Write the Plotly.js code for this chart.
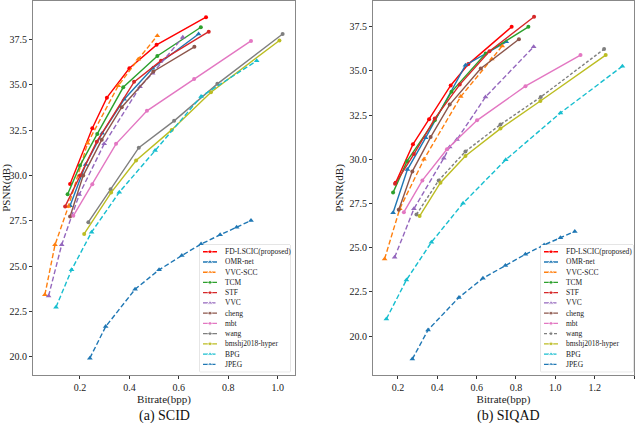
<!DOCTYPE html>
<html>
<head>
<meta charset="utf-8">
<script src="https://cdn.plot.ly/plotly-3.0.1.min.js"></script>
<style>
  body { margin: 0; background: #fff; }
  #chart { width: 640px; height: 423px; }
</style>
</head>
<body>
<div id="chart"></div>
<script>
// method names, same order for both datasets
var methods = ['FD-LSCIC(proposed)', 'OMR-net', 'VVC-SCC', 'TCM', 'STF', 'VVC',
               'cheng', 'mbt', 'wang', 'bmshj2018-hyper', 'BPG', 'JPEG'];

// SCID: bitrate (bpp) per method
var scidBpp = [
  [0.16, 0.25, 0.309, 0.40, 0.51, 0.71],
  [0.16, 0.223, 0.29, 0.379, 0.494, 0.68],
  [0.058, 0.099, 0.153, 0.231, 0.355, 0.436, 0.513],
  [0.15, 0.20, 0.27, 0.375, 0.513, 0.689],
  [0.14, 0.20, 0.268, 0.419, 0.528, 0.721],
  [0.073, 0.126, 0.197, 0.298, 0.443, 0.494, 0.616],
  [0.16, 0.213, 0.288, 0.369, 0.497, 0.663],
  [0.173, 0.25, 0.346, 0.471, 0.662, 0.892],
  [0.234, 0.324, 0.438, 0.581, 0.756, 1.02],
  [0.217, 0.326, 0.427, 0.571, 0.73, 1.007],
  [0.103, 0.166, 0.247, 0.359, 0.504, 0.69, 0.915],
  [0.24, 0.304, 0.423, 0.52, 0.612, 0.69, 0.767, 0.834, 0.892]
];
// SCID: PSNR (dB) per method
var scidPsnr = [
  [29.54, 32.61, 34.30, 35.92, 37.21, 38.74],
  [28.33, 30.61, 32.34, 34.21, 35.92, 37.81],
  [23.42, 26.18, 28.29, 31.79, 34.96, 36.42, 37.72],
  [28.97, 30.55, 32.3, 34.87, 36.6, 38.18],
  [28.3, 30.0, 31.87, 35.17, 36.34, 37.94],
  [23.36, 26.18, 28.95, 31.75, 34.9, 35.65, 37.63],
  [27.74, 30.0, 31.97, 33.77, 35.74, 37.1],
  [27.78, 29.52, 31.75, 33.57, 35.33, 37.43],
  [27.43, 29.25, 31.54, 33.02, 35.06, 37.81],
  [26.78, 29.06, 30.83, 32.52, 34.6, 37.45],
  [22.74, 24.8, 26.88, 29.08, 31.38, 34.36, 36.33],
  [19.93, 21.67, 23.73, 24.8, 25.59, 26.22, 26.73, 27.15, 27.52]
];

// SIQAD: bitrate (bpp) per method
var siqadBpp = [
  [0.188, 0.276, 0.358, 0.468, 0.558, 0.778],
  [0.175, 0.248, 0.341, 0.543, 0.751],
  [0.132, 0.209, 0.332, 0.519, 0.677, 0.73],
  [0.175, 0.246, 0.387, 0.472, 0.646, 0.863],
  [0.185, 0.281, 0.387, 0.514, 0.665, 0.892],
  [0.183, 0.281, 0.433, 0.463, 0.50, 0.645, 0.89],
  [0.204, 0.273, 0.366, 0.463, 0.621, 0.815],
  [0.23, 0.324, 0.449, 0.602, 0.848, 1.128],
  [0.294, 0.407, 0.543, 0.721, 0.926, 1.248],
  [0.31, 0.416, 0.543, 0.721, 0.924, 1.256],
  [0.141, 0.243, 0.37, 0.531, 0.748, 1.026, 1.341],
  [0.273, 0.353, 0.51, 0.632, 0.746, 0.848, 0.943, 1.026, 1.099]
];
// SIQAD: PSNR (dB) per method
var siqadPsnr = [
  [28.68, 30.85, 32.27, 34.18, 35.39, 37.5],
  [26.98, 29.42, 31.23, 35.33, 36.65],
  [24.37, 27.2, 30.0, 33.55, 35.68, 36.42],
  [28.12, 29.9, 32.21, 33.82, 35.99, 37.5],
  [28.62, 30.3, 32.31, 34.23, 36.12, 38.07],
  [24.46, 27.2, 30.07, 30.7, 31.13, 33.53, 36.37],
  [27.15, 29.32, 31.26, 33.1, 35.14, 36.8],
  [27.01, 28.81, 30.57, 32.21, 34.14, 35.9],
  [26.88, 28.81, 30.45, 31.97, 33.53, 36.24],
  [26.79, 28.68, 30.19, 31.74, 33.3, 35.9],
  [20.97, 23.18, 25.31, 27.52, 29.98, 32.63, 35.27],
  [18.7, 20.35, 22.19, 23.27, 23.99, 24.63, 25.16, 25.56, 25.92]
];

// styles (matplotlib-ish)
var colors = ['#ff0000', '#1f77b4', '#ff7f0e', '#2ca02c', '#d62728', '#9467bd',
              '#8c564b', '#e377c2', '#7f7f7f', '#bcbd22', '#17becf', '#1f77b4'];
var symbols = ['circle', 'triangle-up', 'triangle-up', 'circle', 'circle', 'triangle-up',
               'circle', 'circle', 'circle', 'circle', 'triangle-up', 'triangle-up'];
var dashScid  = ['solid', 'solid', '5px,2.5px', 'solid', 'solid', '5px,2.5px',
                 'solid', 'solid', 'solid', 'solid', '5px,2.5px', '5px,2.5px'];
var dashSiqad = ['solid', 'solid', '5px,2.5px', 'solid', 'solid', '5px,2.5px',
                 'solid', 'solid', '3px,2px', 'solid', '5px,2.5px', '5px,2.5px'];

var serif = 'Liberation Serif, Times New Roman, serif';
var data = [];
var annotations = [];
var shapes = [];

function addSeries(bpp, psnr, dashes, xa, ya) {
  for (var i = 0; i < methods.length; i++) {
    var tri = symbols[i] == 'triangle-up';
    data.push({
      x: bpp[i], y: psnr[i], xaxis: xa, yaxis: ya,
      type: 'scatter', mode: 'lines+markers', name: methods[i], showlegend: false,
      line: {color: colors[i], width: 1.4, dash: dashes[i]},
      marker: {color: colors[i], symbol: symbols[i], size: tri ? 5 : 4}
    });
  }
}

// hand made legend on its own hidden axes (plotly legend rows are too tall here)
function addLegend(dashes, xa, ya) {
  for (var i = 0; i < methods.length; i++) {
    var tri = symbols[i] == 'triangle-up';
    data.push({
      x: [3, 10, 17], y: [i, i, i], xaxis: xa, yaxis: ya,
      type: 'scatter', mode: 'lines+markers', showlegend: false, hoverinfo: 'skip',
      line: {color: colors[i], width: 1.4, dash: dashes[i]},
      marker: {color: colors[i], symbol: symbols[i], size: [0, tri ? 5 : 4, 0]}
    });
    annotations.push({
      xref: xa, yref: ya, x: 23, y: i, text: methods[i], showarrow: false,
      xanchor: 'left', yanchor: 'middle', font: {family: serif, size: 7.5, color: '#222'}
    });
  }
  shapes.push({
    type: 'rect', xref: xa + ' domain', yref: ya + ' domain',
    x0: 0, x1: 1, y0: 0, y1: 1, line: {color: '#cccccc', width: 1}, fillcolor: 'rgba(255,255,255,0.8)',
    layer: 'below'
  });
}

addSeries(scidBpp, scidPsnr, dashScid, 'x', 'y');
addSeries(siqadBpp, siqadPsnr, dashSiqad, 'x2', 'y2');
addLegend(dashScid, 'x3', 'y3');
addLegend(dashSiqad, 'x4', 'y4');

function frameAxis(extra) {
  var a = {
    showgrid: false, zeroline: false, showline: true, mirror: true,
    linecolor: '#888', linewidth: 1, ticks: 'outside', ticklen: 3, tickcolor: '#333',
    tickfont: {family: serif, size: 10, color: '#222'}, tickformat: '.1f'
  };
  for (var k in extra) a[k] = extra[k];
  return a;
}

var hidden = {visible: false, fixedrange: true};

var layout = {
  width: 640, height: 423,
  margin: {l: 0, r: 0, t: 1, b: 48},
  paper_bgcolor: '#fff', plot_bgcolor: '#fff',
  showlegend: false,
  xaxis: frameAxis({domain: [33 / 640, 295 / 640], range: [0.01, 1.07], dtick: 0.2, tick0: 0,
    title: {text: 'Bitrate(bpp)', font: {family: serif, size: 11, color: '#222'}, standoff: 3}}),
  yaxis: frameAxis({range: [19.0, 39.63], dtick: 2.5, tick0: 0,
    title: {text: 'PSNR(dB)', font: {family: serif, size: 11, color: '#222'}, standoff: 3}}),
  xaxis2: frameAxis({domain: [373 / 640, 634 / 640], range: [0.073, 1.4], dtick: 0.2, tick0: 0, anchor: 'y2',
    title: {text: 'Bitrate(bpp)', font: {family: serif, size: 11, color: '#222'}, standoff: 3}}),
  yaxis2: frameAxis({range: [17.8, 38.96], dtick: 2.5, tick0: 0, anchor: 'x2',
    title: {text: 'PSNR(dB)', font: {family: serif, size: 11, color: '#222'}, standoff: 3}}),
  xaxis3: Object.assign({domain: [200 / 640, 290 / 640], range: [0, 90], anchor: 'y3'}, hidden),
  yaxis3: Object.assign({domain: [0.0088, 0.3476], range: [11.72, -0.654], anchor: 'x3'}, hidden),
  xaxis4: Object.assign({domain: [541 / 640, 633 / 640], range: [0, 92], anchor: 'y4'}, hidden),
  yaxis4: Object.assign({domain: [0.0088, 0.3476], range: [11.72, -0.654], anchor: 'x4'}, hidden),
  shapes: shapes,
  annotations: annotations.concat([
    {xref: 'paper', yref: 'paper', x: 164 / 640, y: -0.11, text: '(a) SCID', showarrow: false,
     xanchor: 'center', yanchor: 'middle', font: {family: serif, size: 14, color: '#111'}},
    {xref: 'paper', yref: 'paper', x: 508 / 640, y: -0.11, text: '(b) SIQAD', showarrow: false,
     xanchor: 'center', yanchor: 'middle', font: {family: serif, size: 14, color: '#111'}}
  ])
};

Plotly.newPlot('chart', data, layout, {displayModeBar: false, staticPlot: true});
</script>
</body>
</html>
